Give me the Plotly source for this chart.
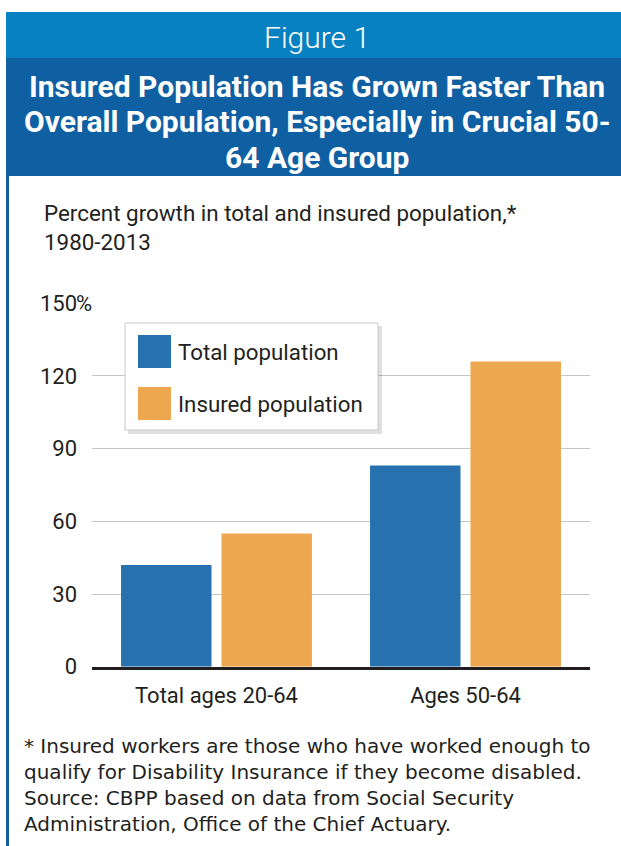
import plotly.graph_objects as go

W, H = 621, 846

categories = ["Total ages 20-64", "Ages 50-64"]
series_names = ["Total population", "Insured population"]
total_pop = [42, 83]
insured_pop = [55, 126]
y_tickvals = [0, 30, 60, 90, 120, 150]
y_ticktext = ["0", "30", "60", "90", "120", "150"]

header_label = "Figure 1"
title_lines = ["Insured Population Has Grown Faster Than",
               "Overall Population, Especially in Crucial 50-",
               "64 Age Group"]
subtitle_lines = ["Percent growth in total and insured population,*", "1980-2013"]
note_lines = ["* Insured workers are those who have worked enough to",
              "qualify for Disability Insurance if they become disabled.",
              "Source: CBPP based on data from Social Security",
              "Administration, Office of the Chief Actuary."]

colors = ["#2772AE", "#EDA74F"]
COND = "Roboto, Liberation Sans, sans-serif"
TXT = "#231F20"

def px(x):
    return x / W

def py(y):
    return 1 - y / H

fig = go.Figure()
for name, vals, c in zip(series_names, [total_pop, insured_pop], colors):
    fig.add_trace(go.Bar(x=categories, y=vals, name=name, marker=dict(color=c, line=dict(width=0))))

shapes = []
shapes.append(dict(type="rect", xref="paper", yref="paper", x0=px(6), x1=1, y0=py(58), y1=py(12),
                   fillcolor="#0881C0", line=dict(width=0), layer="below"))
shapes.append(dict(type="rect", xref="paper", yref="paper", x0=px(6), x1=1, y0=py(176), y1=py(58),
                   fillcolor="#0F5FA3", line=dict(width=0), layer="below"))
shapes.append(dict(type="line", xref="paper", yref="paper", x0=px(7.5), x1=px(7.5), y0=0, y1=py(176),
                   line=dict(color="#0F5FA3", width=3), layer="below"))
shapes.append(dict(type="line", xref="paper", yref="y", x0=px(91), x1=px(113), y0=150, y1=150,
                   line=dict(color="white", width=3), layer="above"))

lx0, ly0, lx1, ly1 = 125, 323, 378, 430
shapes.append(dict(type="rect", xref="paper", yref="paper", x0=px(lx0 + 3), x1=px(lx1 + 4), y0=py(ly1 + 4), y1=py(ly0 + 3),
                   fillcolor="rgba(0,0,0,0.12)", line=dict(width=0), layer="above"))
shapes.append(dict(type="rect", xref="paper", yref="paper", x0=px(lx0), x1=px(lx1), y0=py(ly1), y1=py(ly0),
                   fillcolor="white", line=dict(color="#C8C8C8", width=1), layer="above"))
annotations = []
for i, (name, c) in enumerate(zip(series_names, colors)):
    top = 335 + i * 52
    shapes.append(dict(type="rect", xref="paper", yref="paper", x0=px(138), x1=px(171), y0=py(top + 33), y1=py(top),
                       fillcolor=c, line=dict(width=0), layer="above"))
    annotations.append(dict(text=name, xref="paper", yref="paper", x=px(176), y=py(top + 17),
                            xanchor="left", yanchor="middle", showarrow=False,
                            font=dict(family=COND, size=22.3, color=TXT)))

annotations.append(dict(text=header_label, xref="paper", yref="paper", x=px(317), y=py(37),
                        xanchor="center", yanchor="middle", showarrow=False,
                        font=dict(family="Roboto, sans-serif", size=30, color="white", weight=300)))
for i, line in enumerate(title_lines):
    annotations.append(dict(text="<b>" + line + "</b>", xref="paper", yref="paper", x=px(317), y=py(86 + 35.5 * i),
                            xanchor="center", yanchor="middle", showarrow=False,
                            font=dict(family="Roboto, sans-serif", size=30, color="white")))
annotations.append(dict(text="<br>".join(subtitle_lines), xref="paper", yref="paper", x=px(42), y=py(227),
                        xanchor="left", yanchor="middle", showarrow=False, align="left",
                        font=dict(family=COND, size=22.4, color=TXT)))
annotations.append(dict(text="%", xref="paper", yref="y", x=px(74), y=150, xanchor="left", yanchor="middle",
                        showarrow=False, font=dict(family=COND, size=22, color=TXT)))
annotations.append(dict(text="<br>".join(note_lines), xref="paper", yref="paper", x=px(22), y=py(785),
                        xanchor="left", yanchor="middle", showarrow=False, align="left",
                        font=dict(family="DejaVu Sans, sans-serif", size=20, color=TXT)))

fig.update_layout(
    width=W, height=H, autosize=False,
    margin=dict(l=0, r=0, t=0, b=0, pad=0, autoexpand=False),
    paper_bgcolor="white", plot_bgcolor="white",
    showlegend=False,
    barmode="group", bargap=0.193, bargroupgap=0.0995,
    shapes=shapes, annotations=annotations,
    xaxis=dict(domain=[px(92), px(590)], showline=True, linecolor=TXT, linewidth=3, automargin=False,
               ticks="", tickfont=dict(family=COND, size=22, color=TXT), ticklabelstandoff=7),
    yaxis=dict(domain=[py(666.7), py(303.3)], range=[0, 150], tickvals=y_tickvals, ticktext=y_ticktext,
               automargin=False, showgrid=True, gridcolor="#C4C4C4", gridwidth=1, zeroline=False, ticks="",
               tickfont=dict(family=COND, size=22, color=TXT), ticklabelstandoff=14),
)

fig.write_html("out.html")
